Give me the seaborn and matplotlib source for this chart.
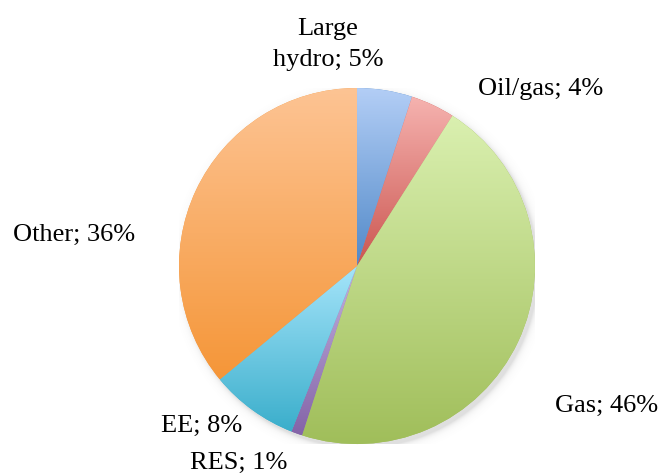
import numpy as np
import matplotlib
matplotlib.use("Agg")
import matplotlib.pyplot as plt
import seaborn as sns
from matplotlib.colors import LinearSegmentedColormap

# Share of each option (percent), clockwise from 12 o'clock
names = ["Large\nhydro", "Oil/gas", "Gas", "RES", "EE", "Other"]
shares = [5, 4, 46, 1, 8, 36]

# Light tint at the top of each slice, full colour at its bottom
top_colors = ["#B3CEF6", "#F6B3B0", "#DAF0B0", "#C3B2DE", "#A5E4FA", "#FDC494"]
base_colors = ["#5189C8", "#CB5650", "#A0BE5A", "#8464A8", "#3AAECB", "#F59638"]

# Label anchor points in pie-radius units
label_pos = [(-0.163, 1.245), (1.034, 0.961), (1.404, -0.820),
             (-0.663, -1.140), (-0.871, -0.933), (-1.590, 0.140)]

sns.set_theme(style="white")
plt.rcParams["font.family"] = ["Liberation Serif", "DejaVu Serif"]

fig = plt.figure(figsize=(6.62, 4.73), dpi=100)
fig.patch.set_facecolor("white")
ax = fig.add_axes([0.2704, 0.0613, 0.5378, 0.7526])

wedges, _ = ax.pie(shares, startangle=90, counterclock=False, radius=1,
                   colors=base_colors, wedgeprops=dict(linewidth=0))

# Soft drop shadow under the pie
g = np.linspace(-1.15, 1.15, 460)
X, Y = np.meshgrid(g, g)
D = np.sqrt((X - 0.018) ** 2 + (Y + 0.022) ** 2)
alpha = np.where(D < 1, 0.25, 0.25 * np.exp(-(D - 1) / 0.016))
shadow = np.zeros((460, 460, 4))
shadow[..., :3] = 0.5
shadow[..., 3] = alpha
ax.imshow(shadow, extent=[-1.15, 1.15, -1.15, 1.15], origin="lower",
          zorder=0, aspect="auto")

# Vertical gradient fill inside every wedge
ramp = np.linspace(0, 1, 256).reshape(-1, 1)
for w, c0, c1 in zip(wedges, top_colors, base_colors):
    bb = w.get_path().get_extents()
    cmap = LinearSegmentedColormap.from_list("g", [c0, c1])
    im = ax.imshow(ramp, cmap=cmap, extent=[bb.x0, bb.x1, bb.y0, bb.y1],
                   origin="upper", aspect="auto", zorder=2)
    im.set_clip_path(w)

ax.set_xlim(-1, 1)
ax.set_ylim(-1, 1)
ax.set_aspect("equal")
ax.axis("off")

for name, v, (x, y) in zip(names, shares, label_pos):
    va = "center" if "\n" in name else "baseline"
    ax.text(x, y, f"{name}; {v}%", ha="center", va=va, fontsize=19,
            color="black", linespacing=1.5, clip_on=False, zorder=5)

fig.savefig("out.png", dpi=100, facecolor="white")
